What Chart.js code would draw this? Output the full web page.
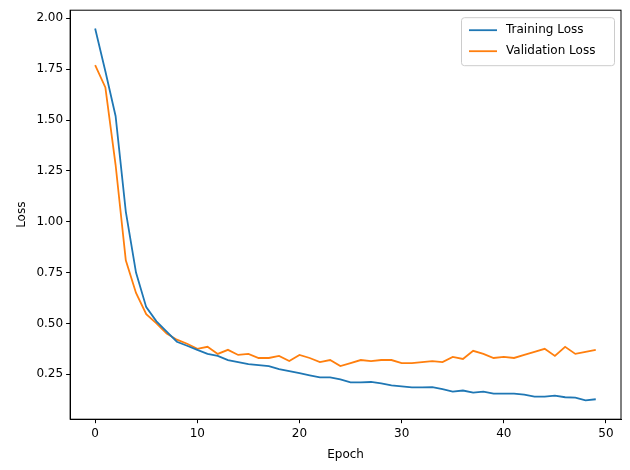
<!DOCTYPE html>
<html><head><script src="https://cdn.jsdelivr.net/npm/chart.js@4"></script>
<style>body{margin:0;background:#fff}#w{width:630px;height:470px}</style></head>
<body><div id="w"><canvas id="c"></canvas></div>
<script>
const epochs = Array.from({length:50},(_,i)=>i);
const trainLoss = [1.95,1.74,1.52,1.05,0.75,0.58,0.51,0.46,0.41,0.39,0.37,0.35,0.34,0.32,0.31,0.30,0.295,0.29,0.275,0.265,0.255,0.245,0.235,0.235,0.225,0.21,0.21,0.212,0.205,0.195,0.19,0.185,0.185,0.187,0.177,0.165,0.17,0.16,0.165,0.155,0.155,0.155,0.15,0.14,0.14,0.145,0.137,0.135,0.122,0.127];
const valLoss = [1.77,1.66,1.28,0.81,0.65,0.545,0.50,0.45,0.42,0.40,0.375,0.385,0.35,0.37,0.345,0.35,0.33,0.33,0.34,0.315,0.345,0.33,0.31,0.32,0.29,0.305,0.32,0.315,0.32,0.32,0.305,0.305,0.31,0.315,0.31,0.335,0.325,0.365,0.35,0.33,0.335,0.33,0.345,0.36,0.375,0.34,0.385,0.35,0.36,0.37];
const seriesNames = ["Training Loss","Validation Loss"];
const xTicks = [0,10,20,30,40,50];
const yTicks = [0.25,0.5,0.75,1,1.25,1.5,1.75,2];
const font = {family:"DejaVu Sans",size:12};
new Chart(document.getElementById('c'),{
  type:'line',
  data:{datasets:[
    {label:seriesNames[0],data:epochs.map((e,i)=>({x:e,y:trainLoss[i]})),borderColor:'#1f77b4',backgroundColor:'#1f77b4',borderWidth:1.8,pointRadius:0,tension:0},
    {label:seriesNames[1],data:epochs.map((e,i)=>({x:e,y:valLoss[i]})),borderColor:'#ff7f0e',backgroundColor:'#ff7f0e',borderWidth:1.8,pointRadius:0,tension:0}
  ]},
  options:{animation:false,responsive:true,maintainAspectRatio:false,
    layout:{padding:{top:9,right:9,left:11,bottom:4}},
    plugins:{legend:{display:false},tooltip:{enabled:false}},
    scales:{
      x:{type:'linear',min:-2.45,max:51.47,
        afterBuildTicks:a=>{a.ticks=xTicks.map(v=>({value:v}));},
        grid:{display:true,drawOnChartArea:false,drawTicks:true,tickLength:4,tickColor:'#000'},border:{color:'#000'},
        ticks:{font,color:'#000',padding:3},title:{display:true,text:'Epoch',font,color:'#000'}},
      y:{min:0.029,max:2.04,
        afterBuildTicks:a=>{a.ticks=yTicks.map(v=>({value:v}));},
        grid:{display:true,drawOnChartArea:false,drawTicks:true,tickLength:4,tickColor:'#000'},border:{color:'#000'},
        ticks:{font,color:'#000',padding:3,callback:v=>v.toFixed(2)},title:{display:true,text:'Loss',font,color:'#000'}}
    }
  },
  plugins:[{id:'box',afterDraw(c){const a=c.chartArea,x=c.ctx;x.save();x.strokeStyle='#000';x.lineWidth=1;x.strokeRect(a.left,a.top,a.right-a.left,a.bottom-a.top);
    const w=153,h=48,lx=a.right-w-7,ly=a.top+7;
    x.fillStyle='rgba(255,255,255,0.8)';x.strokeStyle='#ccc';x.beginPath();x.roundRect(lx+0.5,ly+0.5,w,h,3);x.fill();x.stroke();
    x.font='12px "DejaVu Sans"';x.textBaseline='middle';
    c.data.datasets.forEach((d,i)=>{const yy=ly+13+i*21;x.strokeStyle=d.borderColor;x.lineWidth=1.8;x.beginPath();x.moveTo(lx+8,yy);x.lineTo(lx+36,yy);x.stroke();x.fillStyle='#000';x.fillText(d.label,lx+45,yy);});
    x.restore();}}]
});
</script></body></html>
